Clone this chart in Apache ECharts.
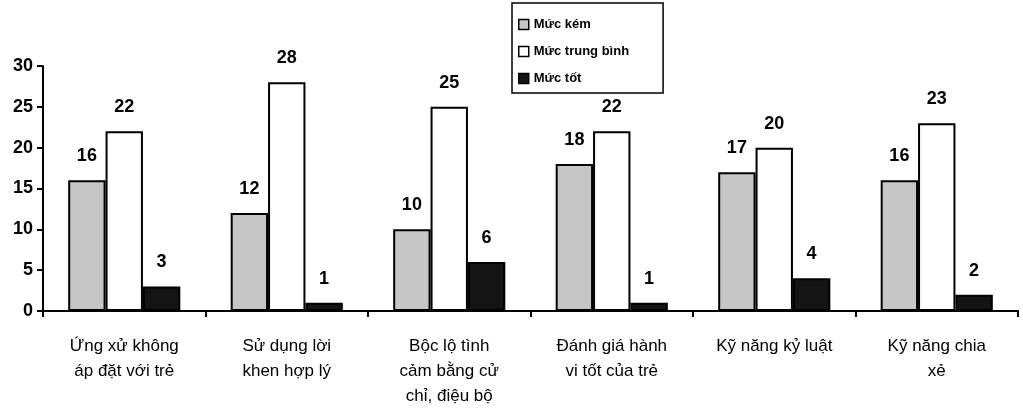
<!DOCTYPE html>
<html><head><meta charset="utf-8">
<script src="https://cdn.jsdelivr.net/npm/echarts@6/dist/echarts.min.js"></script>
<style>html,body{margin:0;padding:0;background:#fff}#c{width:1023px;height:415px}</style>
</head><body><div id="c"></div>
<script>
const categories = ['Ứng xử không\náp đặt với trẻ','Sử dụng lời\nkhen hợp lý','Bộc lộ tình\ncảm bằng cử\nchỉ, điệu bộ','Đánh giá hành\nvi tốt của trẻ','Kỹ năng kỷ luật','Kỹ năng chia\nxẻ'];
const seriesNames = ['Mức kém','Mức trung bình','Mức tốt'];
const mucKem = [16,12,10,18,17,16];
const mucTrungBinh = [22,28,25,22,20,23];
const mucTot = [3,1,6,1,4,2];
const yTicks = [0,5,10,15,20,25,30];

const colors = ['#c6c6c6','#ffffff','#141414'];
const chart = echarts.init(document.getElementById('c'), null, {renderer:'canvas'});
const lbl = {show:true, position:'top', distance:15, color:'#000', fontFamily:'Liberation Sans, Arial, sans-serif', fontWeight:'bold', fontSize:18};
function mk(name, data, i){
  return {name, type:'bar', data, barWidth:'23%', barGap:'0%',
    itemStyle:{color:colors[i], borderColor:'#000', borderWidth:2},
    label:lbl, emphasis:{disabled:true}};
}
chart.setOption({
  animation:false,
  backgroundColor:'#fff',
  legend:{
    orient:'vertical', left:512, top:3, itemWidth:10, itemHeight:10, itemGap:14,
    borderColor:'#000', borderWidth:1.5, padding:[15,34,8,6],
    textStyle:{fontFamily:'Liberation Sans, Arial, sans-serif', fontWeight:'bold', fontSize:13, color:'#000'},
    data:seriesNames.map(n=>({name:n, icon:'rect', itemStyle:{borderColor:'#000',borderWidth:1.5}}))
  },
  grid:{left:43, right:5, top:66, bottom:104, containLabel:false},
  xAxis:{type:'category', data:categories,
    axisLine:{lineStyle:{color:'#000', width:2}},
    axisTick:{show:true, alignWithLabel:false, length:6, lineStyle:{color:'#000', width:2}},
    axisLabel:{interval:0, color:'#000', fontFamily:'Liberation Sans, Arial, sans-serif', fontSize:17, lineHeight:25, margin:23}
  },
  yAxis:{type:'value', min:0, max:30, interval:5,
    axisLine:{show:true, lineStyle:{color:'#000', width:2}},
    axisTick:{show:true, length:6, lineStyle:{color:'#000', width:2}},
    splitLine:{show:false},
    axisLabel:{color:'#000', fontFamily:'Liberation Sans, Arial, sans-serif', fontWeight:'bold', fontSize:18, margin:10,
      formatter:v=>yTicks.includes(v)?String(v):''}
  },
  series:[mk(seriesNames[0],mucKem,0), mk(seriesNames[1],mucTrungBinh,1), mk(seriesNames[2],mucTot,2)]
});
</script></body></html>
